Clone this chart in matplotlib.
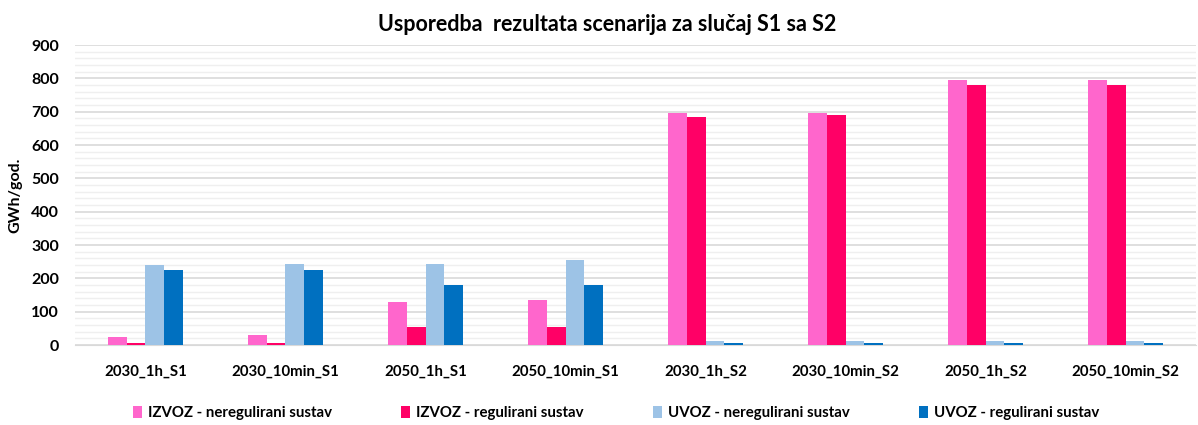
import numpy as np
import matplotlib.pyplot as plt
from matplotlib.ticker import MultipleLocator

plt.rcParams['font.family'] = ['Lato', 'DejaVu Sans']

categories = ['2030_1h_S1', '2030_10min_S1', '2050_1h_S1', '2050_10min_S1',
              '2030_1h_S2', '2030_10min_S2', '2050_1h_S2', '2050_10min_S2']
izvoz_nereg = [25, 29, 129, 136, 697, 697, 796, 796]
izvoz_reg = [5, 5, 53, 53, 685, 690, 781, 781]
uvoz_nereg = [239, 243, 243, 255, 13, 13, 13, 13]
uvoz_reg = [224, 224, 180, 180, 5, 5, 5, 5]

series = [
    ('IZVOZ - neregulirani sustav', izvoz_nereg, '#FF66CC'),
    ('IZVOZ - regulirani sustav', izvoz_reg, '#FF0066'),
    ('UVOZ - neregulirani sustav', uvoz_nereg, '#9DC3E6'),
    ('UVOZ - regulirani sustav', uvoz_reg, '#0070C0'),
]

fig = plt.figure(figsize=(11.98, 4.25), dpi=100)
ax = fig.add_axes([0.063, 0.188, 0.935, 0.706])

x = np.arange(len(categories))
w = 0.134
for i, (name, vals, col) in enumerate(series):
    ax.bar(x + (i - 1.5) * w, vals, w, color=col, linewidth=0,
           label=name, zorder=3)

ax.set_xlim(-0.5, len(categories) - 0.5)
ax.set_ylim(0, 900)
ax.yaxis.set_major_locator(MultipleLocator(100))
ax.yaxis.set_minor_locator(MultipleLocator(20))
ax.grid(axis='y', which='major', color='#d9d9d9', linewidth=1.2, zorder=0)
ax.grid(axis='y', which='minor', color='#efefef', linewidth=1.0, zorder=0)

for s in ['top', 'right', 'left']:
    ax.spines[s].set_visible(False)
ax.spines['bottom'].set_color('#d9d9d9')
ax.tick_params(axis='both', which='both', length=0)
ax.tick_params(axis='y', pad=12, labelsize=11.5)
ax.tick_params(axis='x', pad=14, labelsize=10.8)
ax.set_xticks(x)
ax.set_xticklabels(categories, fontweight='bold')
for lbl in ax.get_yticklabels():
    lbl.set_fontweight('bold')

ax.set_ylabel('GWh/god.', fontsize=11.5, fontweight='bold', labelpad=6)
ax.set_title('Usporedba  rezultata scenarija za slučaj S1 sa S2',
             fontsize=15.5, fontweight='bold', pad=10, x=0.475)

fig.legend(loc='lower left', bbox_to_anchor=(0.1, -0.02), ncol=4, frameon=False,
           handlelength=0.6, handleheight=0.9, handletextpad=0.4,
           columnspacing=4.6, prop={'size': 10.8, 'weight': 'bold'})

fig.savefig('out.png', dpi=100)
